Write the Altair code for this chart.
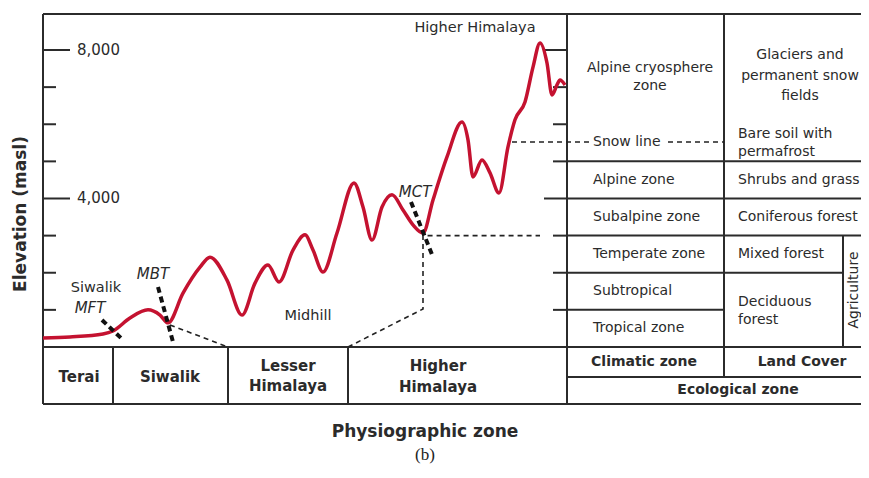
import altair as alt
import pandas as pd

# ---------------- data (x = horizontal distance units, y = elevation in m) -------------
dist = [0, 27, 60, 70, 87, 105, 117, 125, 140, 157, 167, 184, 199, 212, 225, 236, 250, 262,
        270, 280, 294, 311, 320, 329, 339, 349, 360, 370, 380, 390, 404, 419, 425, 430, 439,
        447, 456, 465, 472, 482, 490, 497, 504, 509, 514, 517, 522]
elev = [240, 270, 350, 430, 780, 1000, 860, 650, 1450, 2150, 2420, 1800, 860, 1720, 2210,
        1750, 2610, 3020, 2610, 2020, 3070, 4420, 3770, 2880, 3770, 4100, 3690, 3290, 3070,
        3960, 5120, 6060, 5580, 4580, 5040, 4690, 4150, 5390, 6120, 6600, 7540, 8190, 7650,
        6790, 7060, 7190, 7060]

tick_elev = [1000, 2000, 3000, 4000, 5000, 6000, 7000, 8000]
tick_labels = ["8,000", "4,000"]
tick_label_elev = [8000, 4000]

X_MAX = 818
Y_MIN, Y_MAX = -1536, 8970

# table / frame lines
h_x0 = [0, 0, 0, 524, 524, 524, 524, 524, 524]
h_x1 = [X_MAX, X_MAX, X_MAX, X_MAX, X_MAX, X_MAX, 800, 681, X_MAX]
h_y = [Y_MAX, Y_MIN, 0, 5000, 4000, 3000, 2000, 1000, -808]

v_x = [0, 70, 185, 305, 524, 681, 800]
v_y0 = [Y_MIN, Y_MIN, Y_MIN, Y_MIN, Y_MIN, -808, 0]
v_y1 = [Y_MAX, 0, 0, 0, Y_MAX, Y_MAX, 3000]

# thin dashed guides (segment id, x, y)
thin_seg = ["a", "a", "b", "b", "b", "b", "c", "c", "d", "d"]
thin_x = [127, 185, 305, 380, 380, 497, 469, 547, 625, 681]
thin_y = [593, 0, 0, 1024, 3000, 3000, 5520, 5520, 5520, 5520]

# thick dashed fault lines
fault_seg = ["MFT", "MFT", "MBT", "MBT", "MCT", "MCT"]
fault_x = [59, 80, 115, 130, 368, 390]
fault_y = [727, 189, 1616, 135, 3906, 2425]

# text groups
reg_c_text = ["Higher Himalaya", "Siwalik", "Midhill"]
reg_c_x = [432, 53, 265]
reg_c_y = [8590, 1590, 835]

tab_c_text = ["Alpine cryosphere", "zone", "Glaciers and", "permanent snow", "fields"]
tab_c_x = [607, 607, 757, 757, 757]
tab_c_y = [7520, 7030, 7866, 7300, 6762]

reg_l_text = ["Snow line", "Alpine zone", "Subalpine zone", "Temperate zone", "Subtropical",
              "Tropical zone", "Bare soil with", "permafrost", "Shrubs and grass",
              "Coniferous forest", "Mixed forest", "Deciduous", "forest"]
reg_l_x = [550, 550, 550, 550, 550, 550, 695, 695, 695, 695, 695, 695, 695]
reg_l_y = [5520, 4500, 3500, 2500, 1500, 500, 5740, 5260, 4500, 3500, 2500, 1220, 727]

ital_text = ["MFT", "MBT", "MCT"]
ital_x = [47, 110, 372]
ital_y = [1050, 1970, 4180]

bold_text = ["Terai", "Siwalik", "Lesser", "Himalaya", "Higher", "Himalaya"]
bold_x = [36, 127, 245, 245, 395, 395]
bold_y = [-808, -808, -500, -1050, -520, -1070]

head_text = ["Climatic zone", "Land Cover", "Ecological zone"]
head_x = [601, 759, 695]
head_y = [-405, -405, -1172]

FONT = "DejaVu Sans"
INK = "#2b2b2b"

xs = alt.Scale(domain=[0, X_MAX], nice=False, zero=False)
ys = alt.Scale(domain=[Y_MIN, Y_MAX], nice=False, zero=False)


def X(f):
    return alt.X(f, type="quantitative", scale=xs, axis=None)


def Y(f):
    return alt.Y(f, type="quantitative", scale=ys, axis=None)


def texts(labels, xv, yv, size=15, weight="normal", style="normal", align="center",
          angle=0, font=FONT, color=INK):
    df = pd.DataFrame({"t": labels, "x": xv, "y": yv})
    return alt.Chart(df).mark_text(
        font=font, fontSize=size, fontWeight=weight, fontStyle=style, align=align,
        baseline="middle", angle=angle, color=color
    ).encode(x=X("x"), y=Y("y"), text="t:N")


# left ticks
lt = pd.DataFrame({"e": tick_elev,
                   "x0": [0] * len(tick_elev),
                   "x1": [27 if e % 4000 == 0 else 13 for e in tick_elev]})
left_ticks = alt.Chart(lt).mark_rule(color=INK, strokeWidth=2).encode(
    x=X("x0"), x2="x1", y=Y("e"))

rt = pd.DataFrame({"e": tick_elev,
                   "x0": [501 if e % 4000 == 0 else 510 for e in tick_elev],
                   "x1": [524] * len(tick_elev)})
right_ticks = alt.Chart(rt).mark_rule(color=INK, strokeWidth=2).encode(
    x=X("x0"), x2="x1", y=Y("e"))

hl = pd.DataFrame({"x0": h_x0, "x1": h_x1, "y": h_y})
h_lines = alt.Chart(hl).mark_rule(color=INK, strokeWidth=2).encode(
    x=X("x0"), x2="x1", y=Y("y"))

vl = pd.DataFrame({"x": v_x, "y0": v_y0, "y1": v_y1})
v_lines = alt.Chart(vl).mark_rule(color=INK, strokeWidth=2).encode(
    x=X("x"), y=Y("y0"), y2="y1")

thin = pd.DataFrame({"s": thin_seg, "x": thin_x, "y": thin_y,
                     "o": list(range(len(thin_x)))})
thin_lines = alt.Chart(thin).mark_line(color="#222", strokeWidth=1.6,
                                       strokeDash=[5, 4]).encode(
    x=X("x"), y=Y("y"), detail="s:N", order="o:Q")

fl = pd.DataFrame({"s": fault_seg, "x": fault_x, "y": fault_y,
                   "o": list(range(len(fault_x)))})
fault_lines = alt.Chart(fl).mark_line(color="#111", strokeWidth=4,
                                      strokeDash=[6, 4]).encode(
    x=X("x"), y=Y("y"), detail="s:N", order="o:Q")

cv = pd.DataFrame({"x": dist, "y": elev})
curve = alt.Chart(cv).mark_line(color="#c41230", strokeWidth=3.5,
                                interpolate="monotone").encode(x=X("x"), y=Y("y"))

layers = [
    h_lines, v_lines, left_ticks, right_ticks, thin_lines, curve, fault_lines,
    texts(tick_labels, [34, 34], tick_label_elev, size=15, align="left"),
    texts(reg_c_text, reg_c_x, reg_c_y, size=14.5),
    texts(tab_c_text, tab_c_x, tab_c_y, size=14),
    texts(reg_l_text, reg_l_x, reg_l_y, size=14, align="left"),
    texts(ital_text, ital_x, ital_y, style="italic"),
    texts(bold_text, bold_x, bold_y, weight="bold"),
    texts(head_text, head_x, head_y, size=14, weight="bold"),
    texts(["Agriculture"], [811], [1535], size=14, angle=270),
    texts(["Elevation (masl)"], [-22], [3583], size=17, weight="bold", angle=270),
    texts(["Physiographic zone"], [382], [-2290], size=17, weight="bold"),
    texts(["(b)"], [382], [-2910], size=17, font="Liberation Serif", color="#222"),
]

chart = alt.layer(*layers).properties(
    width=X_MAX, height=390,
    padding={"left": 35, "top": 6, "right": 0, "bottom": 62},
    autosize=alt.AutoSizeParams(type="none"),
).configure_view(stroke=None).configure(background="white")

chart.save("out.html", embed_options={"renderer": "svg", "actions": False})
